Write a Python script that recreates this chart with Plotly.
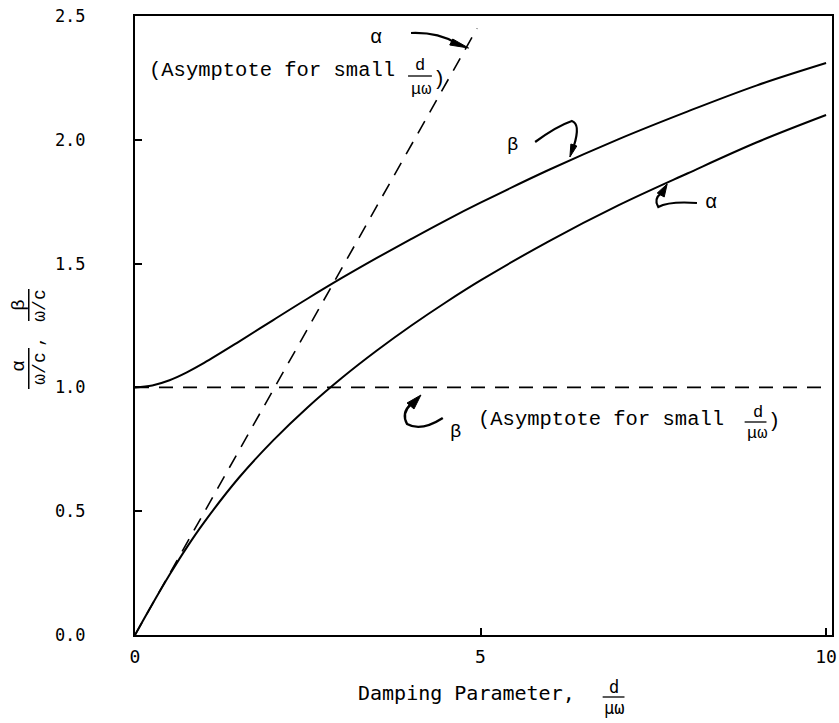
import plotly.graph_objects as go

# ---- data ----
x_vals = [0, 0.25, 0.5, 0.75, 1, 1.5, 2, 2.5, 3, 3.5, 4, 4.5, 5, 6, 7, 8, 9, 10]
beta_vals = [1.0, 1.008, 1.029, 1.061, 1.099, 1.184, 1.272, 1.359, 1.443, 1.523,
             1.600, 1.675, 1.746, 1.880, 2.003, 2.115, 2.220, 2.310]
alpha_vals = [0.0, 0.124, 0.243, 0.354, 0.455, 0.634, 0.786, 0.920, 1.040, 1.149,
              1.250, 1.344, 1.432, 1.592, 1.736, 1.865, 1.990, 2.100]

alpha_asym_x = [0, 4.95]
alpha_asym_y = [0, 2.45]
beta_asym_x = [0, 10]
beta_asym_y = [1, 1]

x_ticks = [0, 5, 10]
x_tick_text = ["0", "5", "10"]
y_ticks = [0, 0.5, 1.0, 1.5, 2.0, 2.5]
y_tick_text = ["0.0", "0.5", "1.0", "1.5", "2.0", "2.5"]

# ---- layout geometry (pixels) ----
W, H = 839, 723
L, R, T, B = 135, 837, 16, 635


def PX(px):
    return (px - L) / (R - L)


def PY(py):
    return (B - py) / (B - T)


MONO = "Liberation Mono"
SANSMONO = "DejaVu Sans Mono"

fig = go.Figure()
fig.add_trace(go.Scatter(x=beta_asym_x, y=beta_asym_y, mode="lines",
                         line=dict(color="black", width=1.6, dash="14px,10px"),
                         showlegend=False))
fig.add_trace(go.Scatter(x=alpha_asym_x, y=alpha_asym_y, mode="lines",
                         line=dict(color="black", width=1.6, dash="14px,10px"),
                         showlegend=False))
fig.add_trace(go.Scatter(x=x_vals, y=beta_vals, mode="lines", line_shape="spline",
                         line=dict(color="black", width=2), showlegend=False))
fig.add_trace(go.Scatter(x=x_vals, y=alpha_vals, mode="lines", line_shape="spline",
                         line=dict(color="black", width=2), showlegend=False))

ann = []
shapes = []


def text(px, py, s, size=20, font=MONO, xanchor="center", angle=0):
    ann.append(dict(x=PX(px), y=PY(py), xref="paper", yref="paper", text=s,
                    showarrow=False, xanchor=xanchor, yanchor="middle",
                    textangle=angle,
                    font=dict(family=font, size=size, color="black")))


def hline(x0, x1, y, w=1.5):
    shapes.append(dict(type="line", xref="paper", yref="paper",
                       x0=PX(x0), x1=PX(x1), y0=PY(y), y1=PY(y),
                       line=dict(color="black", width=w)))


def vline(x, y0, y1, w=1.5):
    shapes.append(dict(type="line", xref="paper", yref="paper",
                       x0=PX(x), x1=PX(x), y0=PY(y0), y1=PY(y1),
                       line=dict(color="black", width=w)))


def path(points_cmd, fill=False, w=2):
    s = ""
    for item in points_cmd:
        if isinstance(item, str):
            s += item + " "
        else:
            s += f"{PX(item[0]):.5f},{PY(item[1]):.5f} "
    d = dict(type="path", xref="paper", yref="paper", path=s.strip(),
             line=dict(color="black", width=w))
    if fill:
        d["fillcolor"] = "black"
    shapes.append(d)


# top annotation: alpha asymptote
text(378, 37, "α", 20)
path(["M", (413, 33), "Q", (440, 32), (458, 43)], w=2.2)
path(["M", (471, 48), "L", (455, 39), "L", (452, 45), "Z"], fill=True, w=1)
text(147, 71, "(Asymptote for small", 20.5, xanchor="left")
text(422, 65, "d", 17)
hline(410, 434, 76, 1.3)
text(423, 89, "μω", 17)
text(441, 80, ")", 20.5)

# beta label & arrow
text(515, 145, "β", 19)
path(["M", (538, 142), "Q", (560, 126), (575, 121), "Q", (584, 124), (577, 146)], w=2.2)
path(["M", (573, 157), "L", (574, 144), "L", (580, 146), "Z"], fill=True, w=1)

# alpha label & arrow
text(715, 203, "α", 20)
path(["M", (701, 203), "Q", (673, 201), (662, 207), "Q", (657, 199), (665, 193)], w=2.2)
path(["M", (671, 184), "L", (661, 193), "L", (668, 197), "Z"], fill=True, w=1)

# bottom annotation: beta asymptote
path(["M", (445, 418), "Q", (423, 432), (409, 424), "Q", (403, 413), (413, 404)], w=2.4)
path(["M", (423, 395), "L", (409, 403), "L", (416, 409), "Z"], fill=True, w=1)
text(458, 432, "β", 19)
text(478, 419, "(Asymptote for small", 20.5, xanchor="left")
text(762, 412, "d", 17)
hline(749, 771, 422, 1.3)
text(761, 433, "μω", 17)
text(779, 421, ")", 20.5)

# y-axis title (rotated fractions)
text(18, 366, "α", 19, angle=-90)
vline(28, 348, 389, 1.5)
text(39, 369, "ω/c", 18, angle=-90)
text(37, 341, ",", 18, angle=-90)
text(18, 305, "β", 19, angle=-90)
vline(28, 289, 321, 1.5)
text(39, 306, "ω/c", 18, angle=-90)

# x-axis title
text(358, 693, "Damping Parameter,", 20, font=SANSMONO, xanchor="left")
text(617, 687, "d", 17, font=SANSMONO)
hline(606, 628, 697, 1.3)
text(617, 708, "μω", 17, font=SANSMONO)

fig.update_layout(
    width=W, height=H,
    margin=dict(l=L, r=W - R, t=T, b=H - B),
    paper_bgcolor="white", plot_bgcolor="white",
    annotations=ann, shapes=shapes,
    showlegend=False,
)
fig.update_xaxes(range=[0, 10.086], tickvals=x_ticks, ticktext=x_tick_text,
                 showgrid=False, zeroline=False, showline=True, linecolor="black",
                 linewidth=2, mirror=True, ticks="inside", ticklen=7, tickwidth=1.5,
                 tickcolor="black", ticklabelstandoff=4, ticklabeloverflow="allow",
                 tickfont=dict(family=SANSMONO, size=18, color="black"))
fig.update_yaxes(range=[0, 2.5], tickvals=y_ticks, ticktext=y_tick_text,
                 showgrid=False, zeroline=False, showline=True, linecolor="black",
                 linewidth=2, mirror=True, ticks="inside", ticklen=7, tickwidth=1.5,
                 tickcolor="black", ticklabelstandoff=44,
                 tickfont=dict(family=SANSMONO, size=17, color="black"))

fig.write_html("out.html")
